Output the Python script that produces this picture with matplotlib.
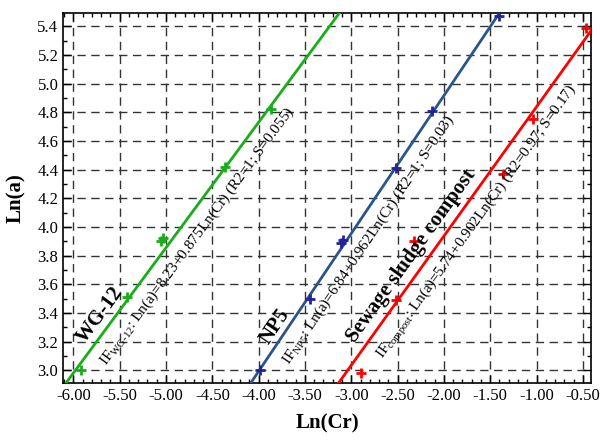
import numpy as np
import matplotlib
matplotlib.use('Agg')
import matplotlib.pyplot as plt
from matplotlib.ticker import MultipleLocator, FormatStrFormatter

# ======= DATA ========
wg_x = [-5.92, -5.42, -5.05, -5.03, -4.36, -3.87]
wg_y = [3.00, 3.51, 3.90, 3.92, 4.42, 4.82]
np5_x = [-3.98, -3.45, -3.11, -3.09, -2.52, -2.125, -1.40]
np5_y = [3.00, 3.50, 3.89, 3.91, 4.41, 4.81, 5.47]
sl_x = [-2.89, -2.52, -2.32, -1.36, -1.035, -0.47]
sl_y = [2.98, 3.49, 3.90, 4.37, 4.75, 5.39]

# fit lines: intercept, slope
wg_fit = (8.23, 0.875)
np5_fit = (6.84, 0.962)
sl_fit = (5.74, 0.902)
# ======================

plt.rcParams['font.family'] = 'Liberation Serif'
plt.rcParams['mathtext.fontset'] = 'custom'
plt.rcParams['mathtext.rm'] = 'Liberation Serif'
plt.rcParams['mathtext.it'] = 'Liberation Serif:italic'

fig = plt.figure(figsize=(6.02, 4.43), dpi=100)
ax = fig.add_axes([0.105, 0.135, 0.877, 0.836])

XLIM = (-6.11, -0.41)
YLIM = (2.909, 5.494)
xx = np.array(XLIM)

green = '#1aad1a'
blue_line = '#2a5589'
blue_pt = '#22229a'
red = '#ff0000'

for (b, m), col in [(wg_fit, green), (np5_fit, blue_line), (sl_fit, red)]:
    ax.plot(xx, b + m * xx, color=col, lw=2, zorder=3)

ax.plot(wg_x, wg_y, '+', color=green, ms=7, mew=2, zorder=4)
ax.plot(np5_x, np5_y, '+', color=blue_pt, ms=7, mew=2, zorder=4)
ax.plot(sl_x, sl_y, '+', color=red, ms=7, mew=2, zorder=4)

ax.set_xlim(*XLIM)
ax.set_ylim(*YLIM)

ax.xaxis.set_major_locator(MultipleLocator(0.5))
ax.xaxis.set_minor_locator(MultipleLocator(0.1))
ax.yaxis.set_major_locator(MultipleLocator(0.2))
ax.yaxis.set_minor_locator(MultipleLocator(0.1))
ax.xaxis.set_major_formatter(FormatStrFormatter('%.2f'))
ax.yaxis.set_major_formatter(FormatStrFormatter('%.1f'))
ax.tick_params(which='both', direction='in', top=True, right=True, labelsize=12)
ax.tick_params(which='major', length=6, width=1)
ax.tick_params(which='minor', length=3, width=1)
ax.grid(True, which='major', color='#333333', ls=(0, (6, 4)), lw=1)

for s in ax.spines.values():
    s.set_linewidth(1.2)

ax.set_xlabel('Ln(Cr)', fontsize=15, fontweight='bold', labelpad=7)
ax.set_ylabel('Ln(a)', fontsize=15, fontweight='bold', labelpad=8)


# annotations along the lines: (text, x on the line, fit, offset px above-left, bold)
labels = [
    ('WG-12', -5.60, wg_fit, 13, True),
    (r'IF$_{\mathrm{WG}\text{-}\mathrm{12}}$: Ln(a)=8.23+0.875Ln(Cr) (R2=1; S=0.055)', -4.82, wg_fit, -18, False),
    ('NP5', -3.72, np5_fit, 12, True),
    (r'IF$_{\mathrm{NP5}}$: Ln(a)=6.84+0.962Ln(Cr) (R2=1; S=0.03)', -2.975, np5_fit, -17.5, False),
    ('Sewage sludge compost', -2.22, sl_fit, 15, True),
    (r'IF$_{\mathrm{compost}}$: Ln(a)=5.74+0.902Ln(Cr) (R2=0.97; S=0.17)', -1.81, sl_fit, -19, False),
]
for txt, x, (b, m), d, bold in labels:
    y = b + m * x
    p = ax.transData.transform([(x, y), (x + 1, y + m)])
    ang = np.arctan2(p[1, 1] - p[0, 1], p[1, 0] - p[0, 0])
    off = (-d * np.sin(ang) * 0.72, d * np.cos(ang) * 0.72)
    ax.annotate(txt, (x, y), xytext=off, textcoords='offset points',
                rotation=np.degrees(ang), rotation_mode='anchor',
                ha='center', va='center',
                fontsize=15 if bold else 11,
                fontweight='bold' if bold else 'normal', zorder=5)

fig.savefig('out.png', dpi=100)
